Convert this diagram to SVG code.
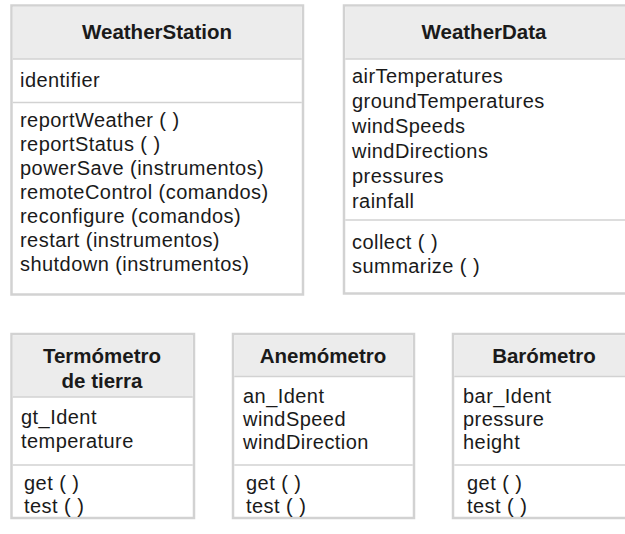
<svg xmlns="http://www.w3.org/2000/svg" width="625" height="534" viewBox="0 0 625 534">
<style>
.box{fill:#ffffff;stroke:#d2d2d2;stroke-width:2.5}
.hdr{fill:#ececec}
.sep{stroke:#d2d2d2;stroke-width:1.6}
.t{font-family:"Liberation Sans",Arial,sans-serif;font-size:20px;letter-spacing:0.45px;fill:#1a1a1a}
.h{font-family:"Liberation Sans",Arial,sans-serif;font-size:20.5px;font-weight:bold;fill:#1a1a1a;text-anchor:middle}
</style>
<rect width="625" height="534" fill="#ffffff"/>
<g id="WeatherStation">
<rect class="box" x="11.5" y="5.5" width="291.5" height="289"/>
<rect class="hdr" x="12.75" y="6.75" width="289" height="52"/>
<line class="sep" x1="12.75" y1="59" x2="301.75" y2="59"/>
<line class="sep" x1="12.75" y1="102.5" x2="301.75" y2="102.5"/>
<text class="h" x="157" y="39">WeatherStation</text>
<text class="t" x="20" y="87">identifier</text>
<text class="t"><tspan x="20" y="127">reportWeather ( )</tspan><tspan x="20" y="151">reportStatus ( )</tspan><tspan x="20" y="175">powerSave (instrumentos)</tspan><tspan x="20" y="199">remoteControl (comandos)</tspan><tspan x="20" y="223">reconfigure (comandos)</tspan><tspan x="20" y="247">restart (instrumentos)</tspan><tspan x="20" y="271">shutdown (instrumentos)</tspan></text>
</g>
<g id="WeatherData">
<rect class="box" x="344" y="5.5" width="300" height="288"/>
<rect class="hdr" x="345.25" y="6.75" width="298" height="52"/>
<line class="sep" x1="345.25" y1="59" x2="625" y2="59"/>
<line class="sep" x1="345.25" y1="220" x2="625" y2="220"/>
<text class="h" x="484" y="39">WeatherData</text>
<text class="t"><tspan x="352" y="83">airTemperatures</tspan><tspan x="352" y="108">groundTemperatures</tspan><tspan x="352" y="133">windSpeeds</tspan><tspan x="352" y="158">windDirections</tspan><tspan x="352" y="183">pressures</tspan><tspan x="352" y="208">rainfall</tspan></text>
<text class="t"><tspan x="352" y="249">collect ( )</tspan><tspan x="352" y="273">summarize ( )</tspan></text>
</g>
<g id="Termometro">
<rect class="box" x="11.5" y="334" width="182.5" height="184"/>
<rect class="hdr" x="12.75" y="335.25" width="180" height="61.5"/>
<line class="sep" x1="12.75" y1="397" x2="192.75" y2="397"/>
<line class="sep" x1="12.75" y1="465" x2="192.75" y2="465"/>
<text class="h"><tspan x="102" y="363">Termómetro</tspan><tspan x="102" y="388">de tierra</tspan></text>
<text class="t"><tspan x="21" y="424">gt_Ident</tspan><tspan x="21" y="448">temperature</tspan></text>
<text class="t"><tspan x="24" y="490">get ( )</tspan><tspan x="24" y="513">test ( )</tspan></text>
</g>
<g id="Anemometro">
<rect class="box" x="233" y="334" width="181" height="184"/>
<rect class="hdr" x="234.25" y="335.25" width="178.5" height="41"/>
<line class="sep" x1="234.25" y1="376.5" x2="412.75" y2="376.5"/>
<line class="sep" x1="234.25" y1="465" x2="412.75" y2="465"/>
<text class="h" x="323" y="363">Anemómetro</text>
<text class="t"><tspan x="243" y="403">an_Ident</tspan><tspan x="243" y="426">windSpeed</tspan><tspan x="243" y="449">windDirection</tspan></text>
<text class="t"><tspan x="246" y="490">get ( )</tspan><tspan x="246" y="513">test ( )</tspan></text>
</g>
<g id="Barometro">
<rect class="box" x="453" y="334" width="190" height="184"/>
<rect class="hdr" x="454.25" y="335.25" width="188" height="41"/>
<line class="sep" x1="454.25" y1="376.5" x2="625" y2="376.5"/>
<line class="sep" x1="454.25" y1="465" x2="625" y2="465"/>
<text class="h" x="544" y="363">Barómetro</text>
<text class="t"><tspan x="463" y="403">bar_Ident</tspan><tspan x="463" y="426">pressure</tspan><tspan x="463" y="449">height</tspan></text>
<text class="t"><tspan x="467" y="490">get ( )</tspan><tspan x="467" y="513">test ( )</tspan></text>
</g>
<g id="connectors"/>
</svg>
